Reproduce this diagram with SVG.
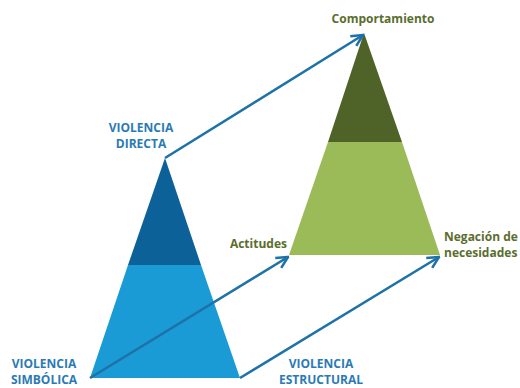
<svg xmlns="http://www.w3.org/2000/svg" width="520" height="388" viewBox="0 0 520 388">
<defs>
<style>
.lb{font-family:"Open Sans","Liberation Sans",sans-serif;font-weight:bold;font-size:12px;fill:#2a7ab6}
.lg{font-family:"Open Sans","Liberation Sans",sans-serif;font-weight:bold;font-size:12px;fill:#5a6e2e}
.con{stroke:#1f72a8;stroke-width:2.6;fill:none;marker-end:url(#ah)}
</style>
<marker id="ah" viewBox="0 0 10 10" refX="9" refY="5" markerWidth="5.5" markerHeight="5.5" orient="auto" markerUnits="strokeWidth">
<path d="M1,1 L9,5 L1,9" fill="none" stroke="#1f72a8" stroke-width="1.8"/>
</marker>
</defs>
<rect width="520" height="388" fill="#ffffff"/>
<g id="blue-triangle">
<polygon points="128,265 201,265 240,378 90,378" fill="#1a9bd5"/>
<polygon points="165,158 201,265 128,265" fill="#0d6199"/>
</g>
<g id="green-triangle">
<polygon points="328,142 402,142 440,255 289,255" fill="#9bbb59"/>
<polygon points="364,33 402,142 328,142" fill="#4f6228"/>
</g>
<g id="connectors">
<path class="con" d="M165,158 L363,35"/>
<path class="con" d="M90,378 L288,257"/>
<path class="con" d="M240,378 L439,257"/>
</g>
<g id="label-directa">
<text class="lb" x="141" y="132" text-anchor="middle">VIOLENCIA</text>
<text class="lb" x="141" y="148" text-anchor="middle">DIRECTA</text>
</g>
<g id="label-simbolica">
<text class="lb" x="44" y="368" text-anchor="middle">VIOLENCIA</text>
<text class="lb" x="44" y="384" text-anchor="middle">SIMBÓLICA</text>
</g>
<g id="label-estructural">
<text class="lb" x="321" y="368" text-anchor="middle">VIOLENCIA</text>
<text class="lb" x="321" y="384" text-anchor="middle">ESTRUCTURAL</text>
</g>
<g id="label-comportamiento">
<text class="lg" x="383" y="23" text-anchor="middle">Comportamiento</text>
</g>
<g id="label-actitudes">
<text class="lg" x="287" y="248" text-anchor="end">Actitudes</text>
</g>
<g id="label-negacion">
<text class="lg" x="444" y="241">Negación de</text>
<text class="lg" x="444" y="257">necesidades</text>
</g>
</svg>
